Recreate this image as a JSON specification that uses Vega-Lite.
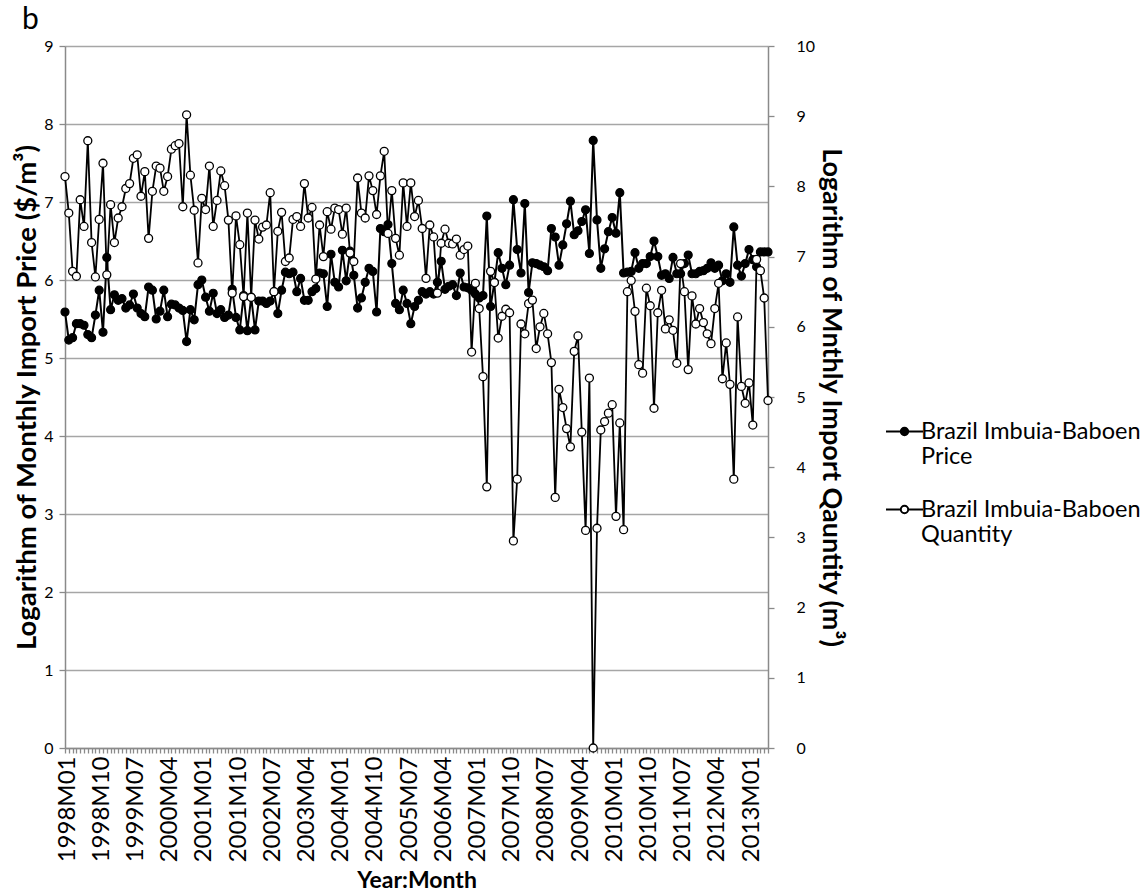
{
  "$schema": "https://vega.github.io/schema/vega-lite/v6.json",
  "width": 703,
  "height": 702,
  "autosize": {"type": "none"},
  "padding": {"left": 65, "top": 46, "right": 380, "bottom": 147},
  "background": "white",
  "title": {"text": "b", "anchor": "start", "frame": "group", "dx": -43, "dy": 28, "fontSize": 30, "fontWeight": "normal", "font": "Lato", "color": "black", "baseline": "alphabetic", "offset": 7},
  "data": {"values": [
    {"m":"1998M01","p":5.59,"q":8.14},{"m":"1998M02","p":5.23,"q":7.62},{"m":"1998M03","p":5.26,"q":6.79},{"m":"1998M04","p":5.44,"q":6.72},{"m":"1998M05","p":5.44,"q":7.81},{"m":"1998M06","p":5.42,"q":7.43},{"m":"1998M07","p":5.30,"q":8.65},{"m":"1998M08","p":5.26,"q":7.20},{"m":"1998M09","p":5.55,"q":6.71},{"m":"1998M10","p":5.87,"q":7.53},{"m":"1998M11","p":5.33,"q":8.33},{"m":"1998M12","p":6.29,"q":6.74},
    {"m":"1999M01","p":5.62,"q":7.74},{"m":"1999M02","p":5.81,"q":7.20},{"m":"1999M03","p":5.74,"q":7.55},{"m":"1999M04","p":5.76,"q":7.71},{"m":"1999M05","p":5.64,"q":7.97},{"m":"1999M06","p":5.68,"q":8.04},{"m":"1999M07","p":5.82,"q":8.40},{"m":"1999M08","p":5.64,"q":8.45},{"m":"1999M09","p":5.57,"q":7.86},{"m":"1999M10","p":5.53,"q":8.21},{"m":"1999M11","p":5.91,"q":7.26},{"m":"1999M12","p":5.87,"q":7.93},
    {"m":"2000M01","p":5.50,"q":8.29},{"m":"2000M02","p":5.60,"q":8.26},{"m":"2000M03","p":5.87,"q":7.93},{"m":"2000M04","p":5.53,"q":8.14},{"m":"2000M05","p":5.69,"q":8.53},{"m":"2000M06","p":5.68,"q":8.58},{"m":"2000M07","p":5.64,"q":8.61},{"m":"2000M08","p":5.61,"q":7.71},{"m":"2000M09","p":5.21,"q":9.02},{"m":"2000M10","p":5.62,"q":8.16},{"m":"2000M11","p":5.49,"q":7.66},{"m":"2000M12","p":5.94,"q":6.91},
    {"m":"2001M01","p":6.00,"q":7.83},{"m":"2001M02","p":5.78,"q":7.67},{"m":"2001M03","p":5.60,"q":8.29},{"m":"2001M04","p":5.83,"q":7.43},{"m":"2001M05","p":5.57,"q":7.80},{"m":"2001M06","p":5.62,"q":8.22},{"m":"2001M07","p":5.52,"q":8.01},{"m":"2001M08","p":5.55,"q":7.52},{"m":"2001M09","p":5.88,"q":6.48},{"m":"2001M10","p":5.52,"q":7.58},{"m":"2001M11","p":5.36,"q":7.17},{"m":"2001M12","p":5.80,"q":6.43},
    {"m":"2002M01","p":5.35,"q":7.62},{"m":"2002M02","p":5.78,"q":6.42},{"m":"2002M03","p":5.36,"q":7.52},{"m":"2002M04","p":5.73,"q":7.25},{"m":"2002M05","p":5.73,"q":7.42},{"m":"2002M06","p":5.70,"q":7.45},{"m":"2002M07","p":5.73,"q":7.91},{"m":"2002M08","p":5.85,"q":6.50},{"m":"2002M09","p":5.57,"q":7.36},{"m":"2002M10","p":5.87,"q":7.63},{"m":"2002M11","p":6.10,"q":6.93},{"m":"2002M12","p":6.08,"q":6.98},
    {"m":"2003M01","p":6.10,"q":7.53},{"m":"2003M02","p":5.85,"q":7.57},{"m":"2003M03","p":6.02,"q":7.43},{"m":"2003M04","p":5.74,"q":8.04},{"m":"2003M05","p":5.74,"q":7.55},{"m":"2003M06","p":5.85,"q":7.70},{"m":"2003M07","p":5.89,"q":6.68},{"m":"2003M08","p":6.09,"q":7.45},{"m":"2003M09","p":6.08,"q":7.00},{"m":"2003M10","p":5.66,"q":7.64},{"m":"2003M11","p":6.33,"q":7.39},{"m":"2003M12","p":5.97,"q":7.69},
    {"m":"2004M01","p":5.91,"q":7.67},{"m":"2004M02","p":6.38,"q":7.32},{"m":"2004M03","p":5.99,"q":7.69},{"m":"2004M04","p":6.37,"q":7.05},{"m":"2004M05","p":6.06,"q":6.93},{"m":"2004M06","p":5.64,"q":8.12},{"m":"2004M07","p":5.77,"q":7.62},{"m":"2004M08","p":5.97,"q":7.55},{"m":"2004M09","p":6.15,"q":8.15},{"m":"2004M10","p":6.11,"q":7.94},{"m":"2004M11","p":5.59,"q":7.60},{"m":"2004M12","p":6.66,"q":8.15},
    {"m":"2005M01","p":6.62,"q":8.50},{"m":"2005M02","p":6.71,"q":7.33},{"m":"2005M03","p":6.21,"q":7.94},{"m":"2005M04","p":5.70,"q":7.26},{"m":"2005M05","p":5.62,"q":7.02},{"m":"2005M06","p":5.87,"q":8.05},{"m":"2005M07","p":5.70,"q":7.43},{"m":"2005M08","p":5.44,"q":8.05},{"m":"2005M09","p":5.66,"q":7.57},{"m":"2005M10","p":5.74,"q":7.80},{"m":"2005M11","p":5.85,"q":7.40},{"m":"2005M12","p":5.82,"q":6.69},
    {"m":"2006M01","p":5.85,"q":7.45},{"m":"2006M02","p":5.82,"q":7.28},{"m":"2006M03","p":5.97,"q":6.48},{"m":"2006M04","p":6.24,"q":7.19},{"m":"2006M05","p":5.88,"q":7.39},{"m":"2006M06","p":5.92,"q":7.19},{"m":"2006M07","p":5.94,"q":7.18},{"m":"2006M08","p":5.80,"q":7.25},{"m":"2006M09","p":6.09,"q":7.02},{"m":"2006M10","p":5.91,"q":7.10},{"m":"2006M11","p":5.90,"q":7.15},{"m":"2006M12","p":5.87,"q":5.64},
    {"m":"2007M01","p":5.82,"q":6.62},{"m":"2007M02","p":5.77,"q":6.26},{"m":"2007M03","p":5.80,"q":5.29},{"m":"2007M04","p":6.82,"q":3.72},{"m":"2007M05","p":5.66,"q":6.79},{"m":"2007M06","p":5.97,"q":6.63},{"m":"2007M07","p":6.35,"q":5.84},{"m":"2007M08","p":6.15,"q":6.15},{"m":"2007M09","p":5.94,"q":6.25},{"m":"2007M10","p":6.19,"q":6.20},{"m":"2007M11","p":7.03,"q":2.95},{"m":"2007M12","p":6.39,"q":3.83},
    {"m":"2008M01","p":6.09,"q":6.04},{"m":"2008M02","p":6.98,"q":5.90},{"m":"2008M03","p":5.84,"q":6.33},{"m":"2008M04","p":6.22,"q":6.38},{"m":"2008M05","p":6.21,"q":5.69},{"m":"2008M06","p":6.19,"q":6.00},{"m":"2008M07","p":6.17,"q":6.19},{"m":"2008M08","p":6.12,"q":5.90},{"m":"2008M09","p":6.66,"q":5.49},{"m":"2008M10","p":6.55,"q":3.57},{"m":"2008M11","p":6.19,"q":5.11},{"m":"2008M12","p":6.45,"q":4.85},
    {"m":"2009M01","p":6.72,"q":4.55},{"m":"2009M02","p":7.01,"q":4.29},{"m":"2009M03","p":6.58,"q":5.65},{"m":"2009M04","p":6.63,"q":5.87},{"m":"2009M05","p":6.75,"q":4.50},{"m":"2009M06","p":6.90,"q":3.10},{"m":"2009M07","p":6.34,"q":5.27},{"m":"2009M08","p":7.79,"q":0.00},{"m":"2009M09","p":6.77,"q":3.13},{"m":"2009M10","p":6.15,"q":4.53},{"m":"2009M11","p":6.40,"q":4.65},{"m":"2009M12","p":6.62,"q":4.77},
    {"m":"2010M01","p":6.80,"q":4.89},{"m":"2010M02","p":6.60,"q":3.30},{"m":"2010M03","p":7.12,"q":4.63},{"m":"2010M04","p":6.09,"q":3.11},{"m":"2010M05","p":6.10,"q":6.50},{"m":"2010M06","p":6.11,"q":6.66},{"m":"2010M07","p":6.35,"q":6.22},{"m":"2010M08","p":6.15,"q":5.46},{"m":"2010M09","p":6.21,"q":5.34},{"m":"2010M10","p":6.21,"q":6.55},{"m":"2010M11","p":6.30,"q":6.30},{"m":"2010M12","p":6.50,"q":4.84},
    {"m":"2011M01","p":6.30,"q":6.20},{"m":"2011M02","p":6.06,"q":6.52},{"m":"2011M03","p":6.08,"q":5.97},{"m":"2011M04","p":6.02,"q":6.10},{"m":"2011M05","p":6.29,"q":5.95},{"m":"2011M06","p":6.08,"q":5.48},{"m":"2011M07","p":6.08,"q":6.90},{"m":"2011M08","p":6.21,"q":6.50},{"m":"2011M09","p":6.32,"q":5.39},{"m":"2011M10","p":6.08,"q":6.44},{"m":"2011M11","p":6.08,"q":6.04},{"m":"2011M12","p":6.11,"q":6.26},
    {"m":"2012M01","p":6.12,"q":6.06},{"m":"2012M02","p":6.15,"q":5.90},{"m":"2012M03","p":6.22,"q":5.76},{"m":"2012M04","p":6.15,"q":6.26},{"m":"2012M05","p":6.19,"q":6.62},{"m":"2012M06","p":5.99,"q":5.26},{"m":"2012M07","p":6.08,"q":5.77},{"m":"2012M08","p":5.97,"q":5.18},{"m":"2012M09","p":6.68,"q":3.83},{"m":"2012M10","p":6.19,"q":6.14},{"m":"2012M11","p":6.05,"q":5.15},{"m":"2012M12","p":6.21,"q":4.91},
    {"m":"2013M01","p":6.39,"q":5.20},{"m":"2013M02","p":6.26,"q":4.60},{"m":"2013M03","p":6.17,"q":6.96},{"m":"2013M04","p":6.36,"q":6.80},{"m":"2013M05","p":6.36,"q":6.41},{"m":"2013M06","p":6.36,"q":4.95}
  ]},
  "encoding": {
    "x": {
      "field": "m",
      "type": "ordinal",
      "scale": {"type": "point", "padding": 0},
      "axis": {
        "title": "Year:Month",
        "titleFontSize": 23,
        "titleFontWeight": "bold",
        "titlePadding": 8,
        "labelAngle": -90,
        "labelFontSize": 24,
        "labelPadding": 3,
        "labelOffset": 2,
        "labelOverlap": false,
        "labelExpr": "((toNumber(substring(datum.value,0,4))-1998)*12 + toNumber(substring(datum.value,5,7)) - 1) % 9 == 0 ? datum.value : ''",
        "tickSize": 5,
        "grid": false
      }
    }
  },
  "layer": [
    {
      "encoding": {
        "y": {
          "field": "p",
          "type": "quantitative",
          "scale": {"domain": [0, 9], "nice": false},
          "axis": {
            "orient": "left",
            "values": [0, 1, 2, 3, 4, 5, 6, 7, 8, 9],
            "grid": true,
            "tickSize": 6,
            "labelFontSize": 16,
            "labelPadding": 6,
            "title": "Logarithm of Monthly Import Price ($/m³)",
            "titleFontSize": 27.5,
            "titleFontWeight": "bold",
            "titlePadding": 2
          }
        }
      },
      "layer": [
        {"mark": {"type": "line", "color": "black", "strokeWidth": 2}},
        {
          "mark": {"type": "point", "shape": "circle", "size": 64, "filled": true, "stroke": "black", "strokeWidth": 1.2, "opacity": 1},
          "encoding": {
            "fill": {
              "datum": "Price",
              "scale": {"domain": ["Price", "Quantity"], "range": ["black", "white"]},
              "legend": {
                "orient": "none",
                "legendX": 820,
                "legendY": 366,
                "title": null,
                "symbolType": "M-1,0L-0.2,0M0.2,0L1,0M0.2,0A0.2,0.2,0,1,1,-0.2,0A0.2,0.2,0,1,1,0.2,0Z",
                "symbolSize": 1369,
                "symbolStrokeColor": "black",
                "symbolStrokeWidth": 2,
                "labelFontSize": 23.5,
                "labelFont": "Lato",
                "labelColor": "black",
                "labelOffset": -3,
                "labelLimit": 400,
                "rowPadding": 21,
                "labelExpr": "['Brazil Imbuia-Baboen', datum.label]",
                "encode": {"labels": {"update": {"lineHeight": {"value": 26}}}}
              }
            }
          }
        }
      ]
    },
    {
      "encoding": {
        "y": {
          "field": "q",
          "type": "quantitative",
          "scale": {"domain": [0, 10], "nice": false},
          "axis": {
            "orient": "right",
            "values": [0, 1, 2, 3, 4, 5, 6, 7, 8, 9, 10],
            "grid": false,
            "tickSize": 6,
            "labelFontSize": 16,
            "labelPadding": 22,
            "title": "Logarithm of Mnthly Import Qauntity (m³)",
            "titleFontSize": 27,
            "titleFontWeight": "bold",
            "titlePadding": 2
          }
        }
      },
      "layer": [
        {"mark": {"type": "line", "color": "black", "strokeWidth": 1.8}},
        {
          "mark": {"type": "point", "shape": "circle", "size": 64, "filled": true, "stroke": "black", "strokeWidth": 1.3, "opacity": 1},
          "encoding": {
            "fill": {"datum": "Quantity"}
          }
        }
      ]
    }
  ],
  "resolve": {"scale": {"y": "independent"}},
  "config": {
    "view": {"stroke": null},
    "font": "Lato",
    "axis": {
      "labelFont": "Lato",
      "titleFont": "Lato",
      "labelColor": "black",
      "titleColor": "black",
      "domainColor": "#8a8a8a",
      "domainWidth": 1.5,
      "tickColor": "#8a8a8a",
      "tickWidth": 1.3,
      "gridColor": "#a6a6a6",
      "gridWidth": 1.5
    }
  }
}
